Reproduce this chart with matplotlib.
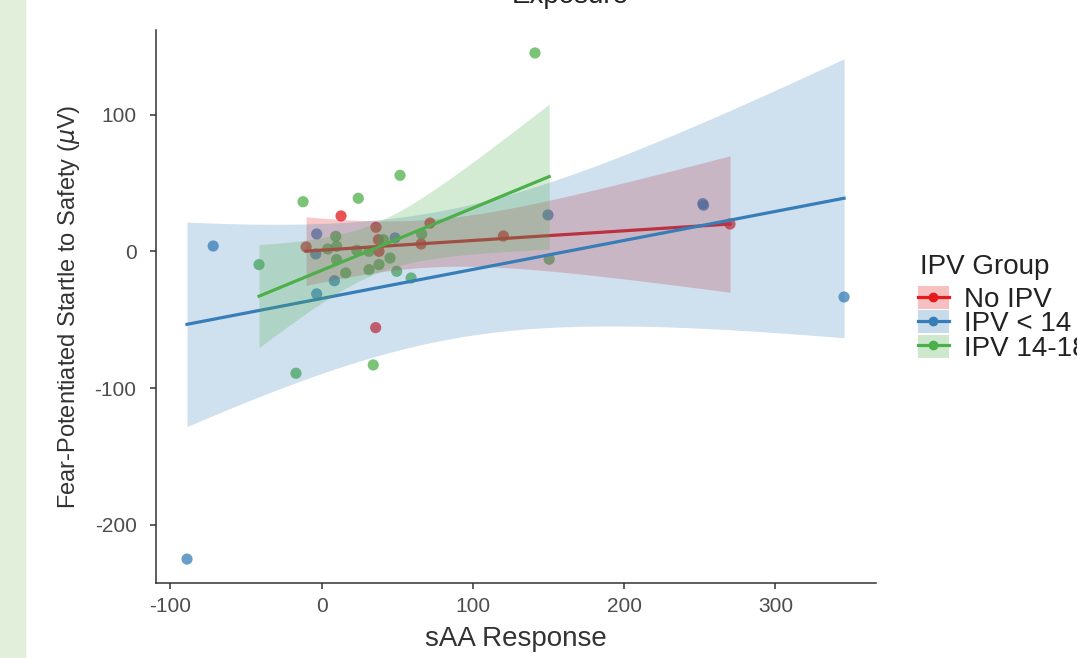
import math
import numpy as np
import matplotlib
matplotlib.use("Agg")
import matplotlib.pyplot as plt
from matplotlib.patches import Patch, Rectangle
from matplotlib.lines import Line2D
from matplotlib.legend_handler import HandlerTuple

plt.rcParams['font.family'] = ['Liberation Sans', 'DejaVu Sans']
plt.rcParams['axes.unicode_minus'] = False

# data
groups = ["No IPV", "IPV < 14", "IPV 14-18"]
colors = ["#E41A1C", "#377EB8", "#4DAF4A"]

no_ipv_x = [-10.2, 12.9, 36.0, 35.8, 37.6, 38.0, 65.8, 71.7, 120.2, 270.0]
no_ipv_y = [3.3, 26.0, 17.7, -55.7, 8.6, 0.1, 5.5, 20.8, 11.3, 20.1]

ipv_lt14_x = [-88.9, -71.6, -3.2, -3.8, -3.2, 8.5, 48.6, 149.7, 252.0, 252.5, 345.4]
ipv_lt14_y = [-225.0, 4.0, 12.8, -1.8, -31.0, -21.4, 9.9, 26.7, 35.0, 33.8, -33.3]

ipv_1418_x = [-41.3, -16.9, -12.2, 4.1, 9.4, 10.0, 10.0, 16.0, 23.3, 24.3, 31.4,
              31.4, 34.2, 38.0, 40.9, 45.3, 49.7, 51.9, 59.2, 66.2, 141.1, 150.5]
ipv_1418_y = [-9.6, -89.1, 36.4, 1.8, 11.1, 3.8, -6.0, -15.7, 0.9, 38.9, 0.1,
              -13.3, -83.0, -9.6, 8.6, -4.8, -14.5, 55.7, -19.4, 12.8, 145.2, -5.7]

xticks = [-100, 0, 100, 200, 300]
yticks = [-200, -100, 0, 100]

data = [(no_ipv_x, no_ipv_y), (ipv_lt14_x, ipv_lt14_y), (ipv_1418_x, ipv_1418_y)]


def t_crit(df, p=0.975):
    # quantile of student t, numeric integration of the pdf
    g = np.linspace(0, 12, 24001)
    c = math.exp(math.lgamma((df + 1) / 2) - math.lgamma(df / 2)) / math.sqrt(df * math.pi)
    pdf = c * (1 + g**2 / df) ** (-(df + 1) / 2)
    cdf = 0.5 + np.concatenate([[0], np.cumsum((pdf[1:] + pdf[:-1]) / 2 * (g[1] - g[0]))])
    return np.interp(p, cdf, g)


def lm_band(x, y):
    x = np.asarray(x); y = np.asarray(y)
    n = len(x)
    b1, b0 = np.polyfit(x, y, 1)
    s = np.sqrt(np.sum((y - (b0 + b1 * x))**2) / (n - 2))
    sxx = np.sum((x - x.mean())**2)
    xs = np.linspace(x.min(), x.max(), 80)
    yh = b0 + b1 * xs
    se = s * np.sqrt(1 / n + (xs - x.mean())**2 / sxx)
    t = t_crit(n - 2)
    return xs, yh, yh - t * se, yh + t * se


fig = plt.figure(figsize=(10.77, 6.58), dpi=100)
fig.patches.append(Rectangle((0, 0), 25 / 1077, 1, transform=fig.transFigure,
                             color="#E2EFDA", zorder=0))
ax = fig.add_axes([156 / 1077, 1 - 583 / 658, 720 / 1077, 553 / 658])

for (x, y), c in zip(data, colors):
    ax.scatter(x, y, s=65, color=c, alpha=0.75, edgecolors='none', zorder=1)

z = 2
for (x, y), c in zip(data, colors):
    xs, yh, lo, hi = lm_band(x, y)
    ax.fill_between(xs, lo, hi, color=c, alpha=0.24, lw=0, zorder=z)
    ax.plot(xs, yh, color=c, lw=2.3, zorder=z + 1)
    z += 2

ax.set_xlim(-109.4, 366.5)
ax.set_ylim(-242.5, 162)
ax.set_xticks(xticks)
ax.set_yticks(yticks)
for sp in ['top', 'right']:
    ax.spines[sp].set_visible(False)
for sp in ['left', 'bottom']:
    ax.spines[sp].set_color('#333333')
    ax.spines[sp].set_linewidth(1.1)
ax.tick_params(direction='out', length=4, width=1.1, color='#333333',
               labelcolor='#4d4d4d', labelsize=15)
ax.tick_params(axis='y', pad=10)
ax.tick_params(axis='x', pad=6)

ax.set_xlabel("sAA Response", fontsize=20, color='#333333', labelpad=7)
ax.set_ylabel(r"Fear-Potentiated Startle to Safety ($\mu$V)", fontsize=17,
              color='#333333', labelpad=9)

fig.text(570 / 1077, 1 - 3 / 658, "Exposure", ha='center', va='baseline',
         fontsize=20, color='#222222')

# legend: title as its own text, entries below it
fig.text(920 / 1077, 1 - 267 / 658, "IPV Group", ha='left', va='center',
         fontsize=20, color='#222222')
handles = [(Patch(facecolor=c, alpha=0.28, lw=0),
            Line2D([], [], color=c, lw=2.3, marker='o', markersize=6))
           for c in colors]
fig.legend(handles, groups, loc='upper left',
           bbox_to_anchor=(918 / 1077, 1 - 286 / 658), frameon=False,
           fontsize=20, borderpad=0, borderaxespad=0,
           labelspacing=-0.1, handlelength=1.1, handleheight=0.9, handletextpad=0.55,
           handler_map={tuple: HandlerTuple(ndivide=1, pad=0)},
           labelcolor='#222222')

fig.savefig("out.png", dpi=100)
